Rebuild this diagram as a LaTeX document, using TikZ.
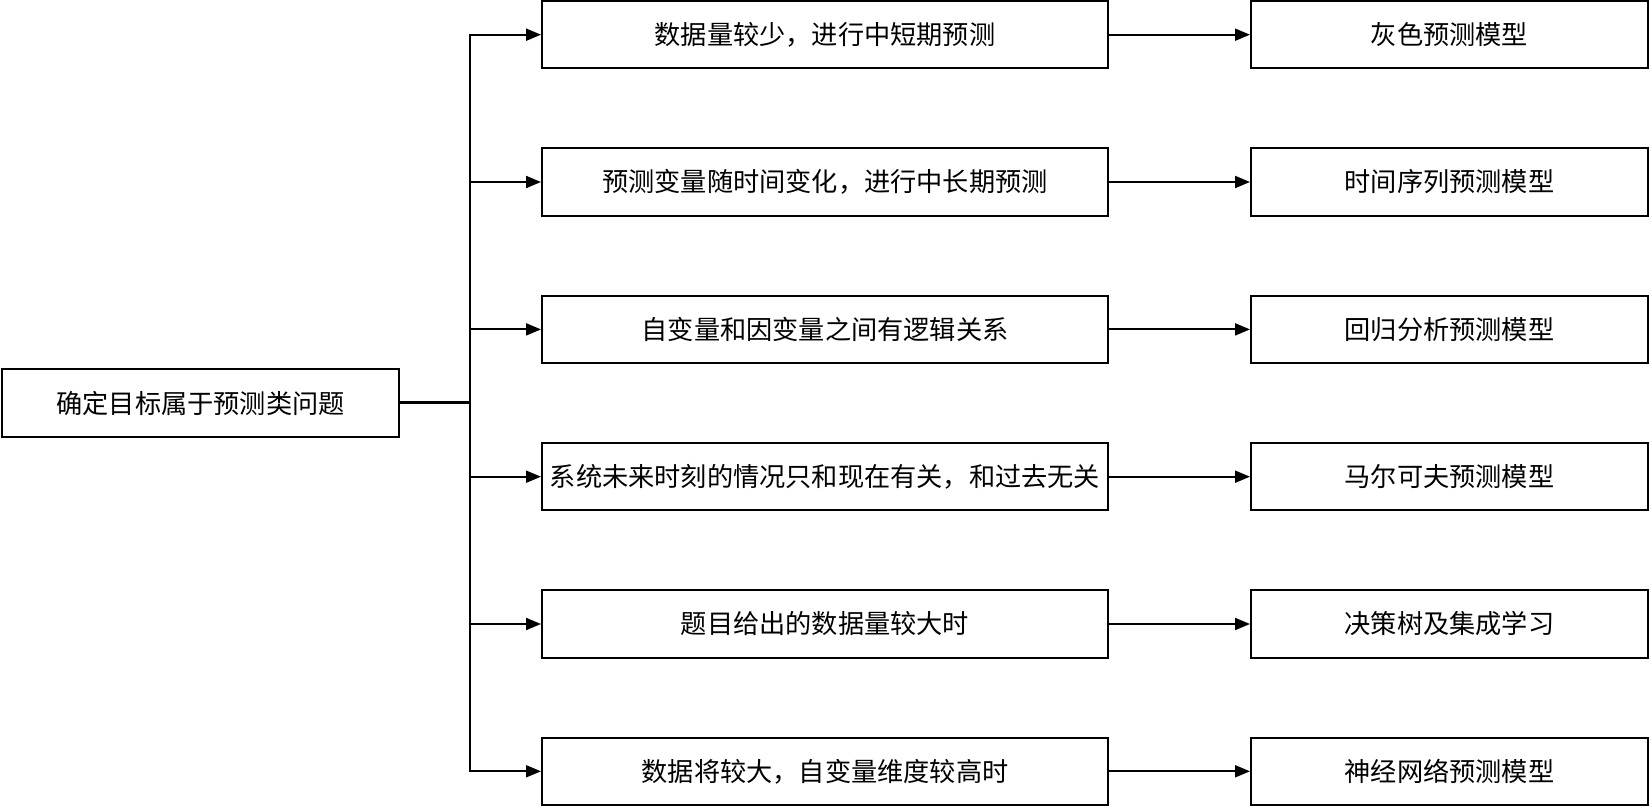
\documentclass[tikz,border=0pt]{standalone}
\usepackage{fontspec}
\newfontfamily\cjk{Noto Sans CJK SC}
\usetikzlibrary{arrows.meta}
\begin{document}
\begin{tikzpicture}[x=0.5pt,y=-0.5pt,
  box/.style={draw=black,line width=1pt,fill=white,minimum height=33.6pt,inner sep=0pt,font=\cjk\fontsize{13.1pt}{15.5pt}\selectfont},
  leftbox/.style={box,minimum width=198.5pt},
  midbox/.style={box,minimum width=283pt},
  rightbox/.style={box,minimum width=198.5pt},
  conn/.style={line width=1pt,-{Triangle[length=7.5pt,width=6pt]}}]
\useasboundingbox (0,0) rectangle (1650,807);
\node[leftbox] (L) at (200.5,403) {确定目标属于预测类问题};
\coordinate (J) at (470,403);
\foreach \i/\y/\mt/\rt in {
  1/34.7/数据量较少，进行中短期预测/灰色预测模型,
  2/182/预测变量随时间变化，进行中长期预测/时间序列预测模型,
  3/329.4/自变量和因变量之间有逻辑关系/回归分析预测模型,
  4/476.7/系统未来时刻的情况只和现在有关，和过去无关/马尔可夫预测模型,
  5/624/题目给出的数据量较大时/决策树及集成学习,
  6/771.3/数据将较大，自变量维度较高时/神经网络预测模型}{
  \node[midbox] (M\i) at (825,\y) {\mt};
  \node[rightbox] (R\i) at (1449.5,\y) {\rt};
  \draw[conn] (J) |- (M\i.west);
  \draw[conn] (M\i.east) -- (R\i.west);
}
\draw[line width=1.5pt] (L.east) -- (J);
\end{tikzpicture}
\end{document}
